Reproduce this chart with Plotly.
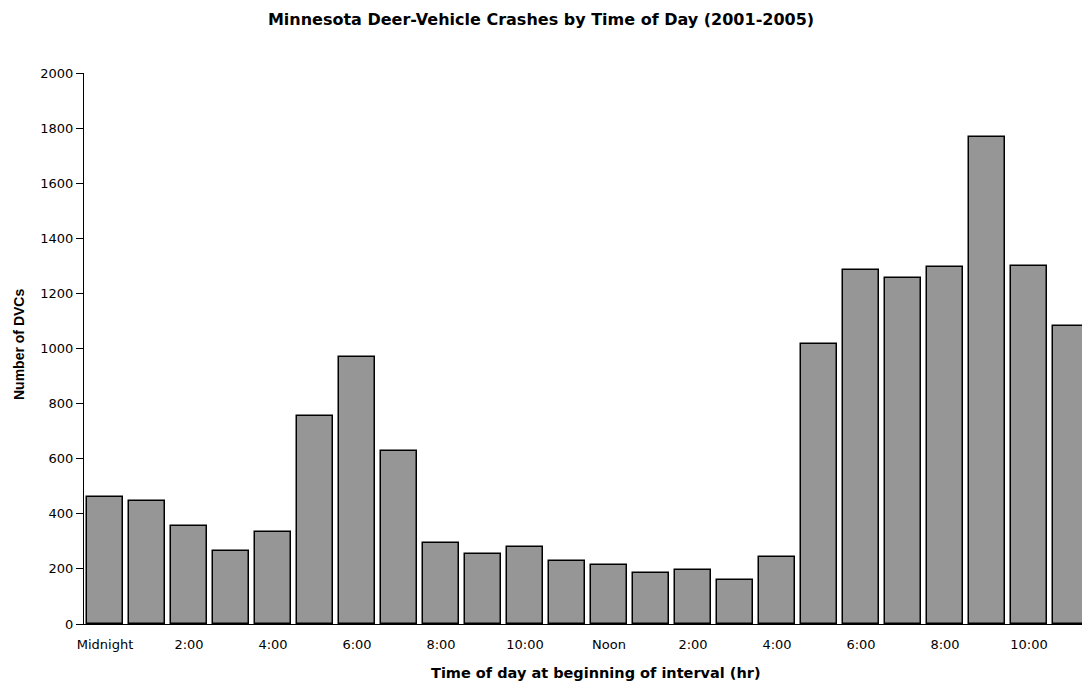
import plotly.graph_objects as go

hours = list(range(24))
dvc_counts = [460, 447, 356, 264, 333, 755, 968, 627, 293, 254, 281, 230,
              213, 184, 197, 160, 242, 1017, 1284, 1256, 1297, 1769, 1298, 1083]
tick_positions = [0, 2, 4, 6, 8, 10, 12, 14, 16, 18, 20, 22]
tick_labels = ["Midnight", "2:00", "4:00", "6:00", "8:00", "10:00",
               "Noon", "2:00", "4:00", "6:00", "8:00", "10:00"]
y_ticks = list(range(0, 2001, 200))

W, H = 1082, 681
left, right_px, top, bottom_px = 84, 1082, 73, 624
cat_px = 42.0
x_end = -0.5 + (right_px - left) / cat_px
pw, ph = right_px - left, bottom_px - top

fig = go.Figure(go.Bar(
    x=hours, y=dvc_counts,
    marker=dict(color="#969696", line=dict(color="#000000", width=1.5)),
    width=36 / cat_px,
))

font = "DejaVu Sans, Liberation Sans, Arial, sans-serif"
arial = "Liberation Sans, Arial, sans-serif"
fig.update_layout(
    width=W, height=H,
    margin=dict(l=left, r=W - right_px, t=top, b=H - bottom_px, pad=0, autoexpand=False),
    paper_bgcolor="white", plot_bgcolor="white",
    font=dict(family=font, size=13, color="black"),
    title=dict(text="<b>Minnesota Deer-Vehicle Crashes by Time of Day (2001-2005)</b>",
               x=0.5, xref="container", xanchor="center",
               y=1 - 19 / H, yref="container", yanchor="middle",
               font=dict(size=16, family=font, color="black")),
    showlegend=False,
    bargap=0,
)

fig.update_xaxes(
    range=[-0.5, x_end], tickmode="array", tickvals=tick_positions, ticktext=tick_labels,
    showline=True, linecolor="black", linewidth=1, showgrid=False, zeroline=False,
    ticks="outside", ticklen=8, tickcolor="rgba(0,0,0,0)",
    tickfont=dict(size=13, family=font, color="black"), fixedrange=True,
)
fig.update_yaxes(
    range=[0, 2000], tickmode="array", tickvals=y_ticks,
    showline=True, linecolor="black", linewidth=1, showgrid=False, zeroline=False,
    ticks="outside", ticklen=7, tickcolor="black",
    tickfont=dict(size=13, family=font, color="black"), fixedrange=True,
)

fig.add_annotation(
    text="<b>Number of DVCs</b>", textangle=-90,
    xref="paper", yref="paper",
    x=(19 - left) / pw, y=(bottom_px - 345) / ph,
    xanchor="center", yanchor="middle", showarrow=False,
    font=dict(size=14, family=arial, color="black"),
)
fig.add_annotation(
    text="<b>Time of day at beginning of interval (hr)</b>",
    xref="paper", yref="paper",
    x=(596 - left) / pw, y=-(673 - bottom_px) / ph,
    xanchor="center", yanchor="middle", showarrow=False,
    font=dict(size=14.5, family=font, color="black"),
)

fig.write_html("out.html", config={"displayModeBar": False},
               post_script="document.body.style.margin='0';document.body.style.overflow='hidden';")
